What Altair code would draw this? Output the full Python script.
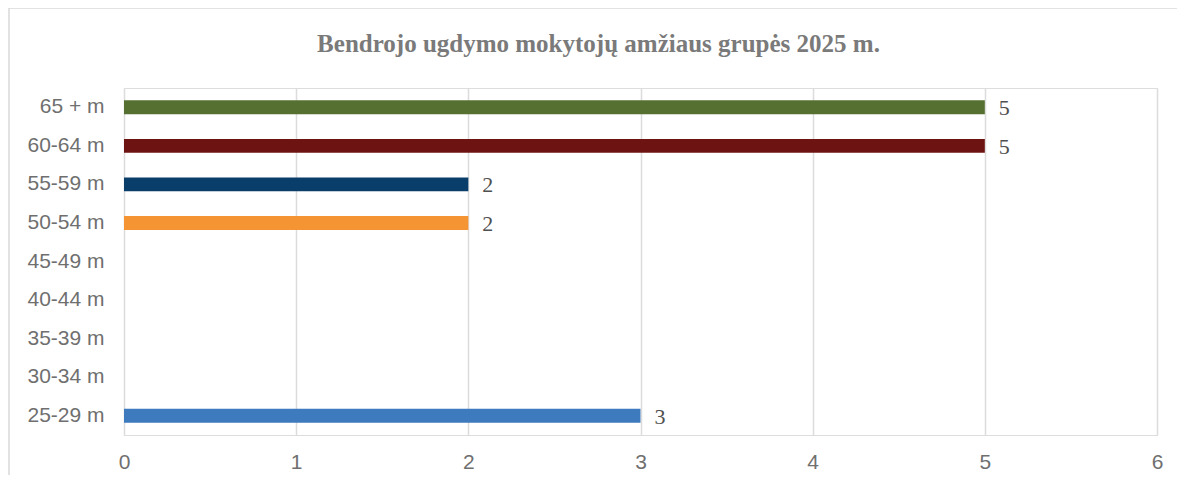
import altair as alt
import pandas as pd

categories = ["65 + m", "60-64 m", "55-59 m", "50-54 m", "45-49 m",
              "40-44 m", "35-39 m", "30-34 m", "25-29 m"]
values = [5, 5, 2, 2, 0, 0, 0, 0, 3]
colors = ["#567032", "#6d1412", "#0a3e6a", "#f59433", "#ffffff",
          "#ffffff", "#ffffff", "#ffffff", "#3e7abe"]
x_ticks = [0, 1, 2, 3, 4, 5, 6]

df = pd.DataFrame({"group": categories, "value": values, "color": colors})

W, H = 1033, 347
SERIF = "Liberation Serif"

y_enc = alt.Y("group:N", sort=categories, title=None,
              scale=alt.Scale(paddingInner=0.64, paddingOuter=0.32),
              axis=alt.Axis(labelFont="Liberation Sans", labelFontSize=21,
                            labelColor="#6f6f6f", labelPadding=20,
                            ticks=False, domain=False, grid=False))
x_enc = alt.X("value:Q", title=None,
              scale=alt.Scale(domain=[0, 6], nice=False),
              axis=alt.Axis(values=x_ticks, format="d", labelFont="Liberation Sans",
                            labelFontSize=21, labelColor="#6f6f6f", labelPadding=16,
                            labelFlush=False,
                            ticks=False, domain=False, grid=True,
                            gridColor="#dcdcdc", gridWidth=1.5))

base = alt.Chart(df)

bars = base.mark_bar().encode(
    x=x_enc, y=y_enc,
    color=alt.Color("color:N", scale=None, legend=None),
)

labels = base.transform_filter("datum.value > 0").mark_text(
    align="left", baseline="middle", dx=14, dy=1,
    font=SERIF, fontSize=22, color="#505050",
).encode(x="value:Q", y=alt.Y("group:N", sort=categories), text="value:Q")

border_top = alt.Chart(pd.DataFrame({"k": [0]})).mark_rule(
    color="#d9d9d9", strokeWidth=1.5
).encode(x=alt.value(-115), x2=alt.value(1100), y=alt.value(-80))
border_left = alt.Chart(pd.DataFrame({"k": [0]})).mark_rule(
    color="#d9d9d9", strokeWidth=1.5
).encode(x=alt.value(-115), y=alt.value(-80), y2=alt.value(420))

chart = alt.layer(border_top, border_left, bars, labels).properties(
    width=W, height=H,
    title=alt.TitleParams(
        "Bendrojo ugdymo mokytojų amžiaus grupės 2025 m.",
        font=SERIF, fontSize=25, fontWeight="bold",
        color="#7a7a7a", anchor="middle", frame="bounds", offset=-50, dx=-18,
    ),
    padding={"left": 116, "top": 80, "right": 20, "bottom": 40},
    autosize=alt.AutoSizeParams(type="none"),
).configure_view(stroke="transparent", strokeWidth=0).configure_text(font=SERIF).configure(background="white")

chart.save("out.html", embed_options={"renderer": "svg", "actions": False})
